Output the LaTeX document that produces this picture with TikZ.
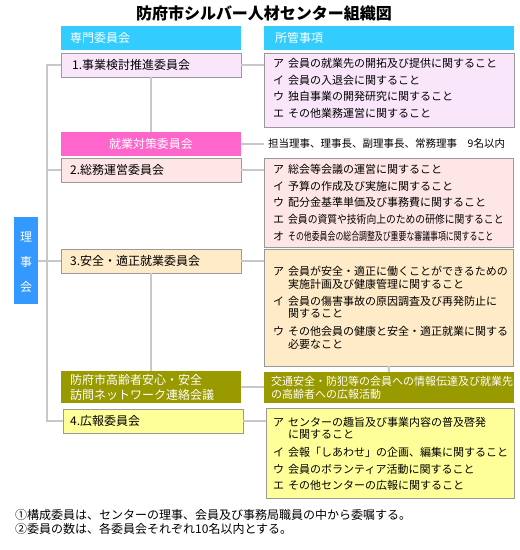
\documentclass[tikz,border=0pt]{standalone}
\usepackage{fontspec}
\usepackage{graphicx}
\setmainfont{Noto Sans CJK JP}
\definecolor{hdr}{HTML}{33CCFF}
\definecolor{bordc}{HTML}{999999}
\definecolor{linec}{HTML}{C8C8C8}
\definecolor{cA}{HTML}{FAE6FA}
\definecolor{cB}{HTML}{FFE6E6}
\definecolor{cC}{HTML}{FFEBC8}
\definecolor{cD}{HTML}{FFFF99}
\definecolor{olive}{HTML}{999900}
\definecolor{mag}{HTML}{FF66CC}
\definecolor{rib}{HTML}{3399FF}
\newcommand\itm[1]{\makebox[15pt][l]{#1}}
\tikzset{
  boxx/.style={rectangle, draw=bordc, line width=1pt, anchor=north west, inner sep=0pt, outer sep=0pt},
  flat/.style={rectangle, anchor=north west, inner sep=0pt, outer sep=0pt},
  ltxt/.style={anchor=west, inner sep=0pt, font=\fontsize{12}{14}\selectfont},
  rtxt/.style={anchor=west, inner sep=0pt, font=\fontsize{11}{13}\selectfont},
  wtxt/.style={text=white},
  conn/.style={draw=linec, line width=2pt},
}
\begin{document}
\begin{tikzpicture}[x=1pt,y=-1pt]
\useasboundingbox (0,0) rectangle (520,550);
% title
\node[inner sep=0pt, font=\fontsize{16}{18}\selectfont\bfseries] (title) at (264,13) {防府市シルバー人材センター組織図};
% headers
\node[flat, fill=hdr, minimum width=180pt, minimum height=24pt] (h1) at (61,26) {};
\node[flat, fill=hdr, minimum width=250pt, minimum height=24pt] (h2) at (264,26) {};
\node[ltxt, wtxt] (h1t) at (70,38) {専門委員会};
\node[ltxt, wtxt] (h2t) at (275,38) {所管事項};
% left boxes
\node[boxx, fill=cA, minimum width=180pt, minimum height=24pt] (b1) at (61,53) {};
\node[flat, fill=mag, minimum width=180pt, minimum height=24pt] (m) at (61,132) {};
\node[boxx, fill=cB, minimum width=180pt, minimum height=24pt] (b2) at (61,158) {};
\node[boxx, fill=cC, minimum width=180pt, minimum height=24pt] (b3) at (61,249) {};
\node[flat, fill=olive, minimum width=180pt, minimum height=32pt] (o) at (61,371) {};
\node[boxx, fill=cD, minimum width=180pt, minimum height=24pt] (b4) at (63,409) {};
\node[flat, fill=rib, minimum width=24pt, minimum height=87pt] (ri) at (14,217) {};
% right boxes
\node[boxx, fill=cA, minimum width=250pt, minimum height=74pt] (r1) at (264,53) {};
\node[boxx, fill=cB, minimum width=249pt, minimum height=89pt] (r2) at (264,158) {};
\node[boxx, fill=cC, minimum width=249pt, minimum height=117pt] (r3) at (264,249) {};
\node[flat, fill=olive, minimum width=250pt, minimum height=31pt] (ro) at (264,372) {};
\node[boxx, fill=cD, minimum width=248pt, minimum height=90pt] (r4) at (266,408) {};
% connectors
\coordinate (sTop) at (47,65);
\coordinate (sBot) at (47,421);
\draw[conn] (b1.west) -- (sTop) -- (sBot) -- (b4.west);
\draw[conn] (b2.west) -- (b2.west -| sTop);
\draw[conn] (ri.east |- b3.west) -- (b3.west);
\draw[conn] (b1.east) -- (b1.east -| r1.west);
\draw[conn] (b2.east) -- (b2.east -| r2.west);
\draw[conn] (b3.east) -- (b3.east -| r3.west);
\draw[conn] (o.east) -- (o.east -| ro.west);
\draw[conn] (b4.east) -- (b4.east -| r4.west);
\draw[conn] (b1.south) -- (m.north);
\draw[conn] (b3.south) -- (o.north);
\draw[conn] (r3.south) -- (ro.north);
\node[anchor=west, inner sep=4pt, font=\fontsize{10.5}{12}\selectfont] (mt) at (264,144) {担当理事、理事長、副理事長、常務理事　9名以内};
\draw[conn] (m.east) -- (mt.west);
% left texts
\node[ltxt] (b1t) at (72,65) {1.事業検討推進委員会};
\node[ltxt, wtxt, anchor=center] (mtx) at (m.center) {就業対策委員会};
\node[ltxt] (b2t) at (70,170) {2.総務運営委員会};
\node[ltxt] (b3t) at (70,261) {3.安全・適正就業委員会};
\node[ltxt, wtxt] (ot1) at (70,380) {防府市高齢者安心・安全};
\node[ltxt, wtxt] (ot2) at (70,395) {訪問ネットワーク連絡会議};
\node[ltxt] (b4t) at (70,421) {4.広報委員会};
\node[ltxt, wtxt, anchor=center] (ri1) at (26,237) {理};
\node[ltxt, wtxt, anchor=center] (ri2) at (26,262) {事};
\node[ltxt, wtxt, anchor=center] (ri3) at (26,287) {会};
% right 1
\node[rtxt] (r1a) at (273,63) {\itm{ア}会員の就業先の開拓及び提供に関すること};
\node[rtxt] (r1b) at (273,80) {\itm{イ}会員の入退会に関すること};
\node[rtxt] (r1c) at (273,96.5) {\itm{ウ}独自事業の開発研究に関すること};
\node[rtxt] (r1d) at (273,113) {\itm{エ}その他業務運営に関すること};
% right 2
\node[rtxt] (r2a) at (273,169.5) {\itm{ア}総会等会議の運営に関すること};
\node[rtxt] (r2b) at (273,186) {\itm{イ}予算の作成及び実施に関すること};
\node[rtxt] (r2c) at (273,202.5) {\itm{ウ}配分金基準単価及び事務費に関すること};
\node[rtxt] (r2d) at (273,219.5) {\itm{エ}\scalebox{0.89}[1]{会員の資質や技術向上のための研修に関すること}};
\node[rtxt] (r2e) at (273,236.5) {\itm{オ}\scalebox{0.717}[1]{その他委員会の総合調整及び重要な審議事項に関すること}};
% right 3
\node[rtxt] (r3a) at (273,271) {\itm{ア}会員が安全・適正に働くことができるための};
\node[rtxt] (r3b) at (288,284) {実施計画及び健康管理に関すること};
\node[rtxt] (r3c) at (273,301) {\itm{イ}会員の傷害事故の原因調査及び再発防止に};
\node[rtxt] (r3d) at (288,314) {関すること};
\node[rtxt] (r3e) at (273,331) {\itm{ウ}その他会員の健康と安全・適正就業に関する};
\node[rtxt] (r3f) at (288,344) {必要なこと};
% right olive
\node[rtxt, wtxt] (roa) at (271,381.5) {交通安全・防犯等の会員への情報伝達及び就業先};
\node[rtxt, wtxt] (rob) at (271,394.5) {の高齢者への広報活動};
% right 4
\node[rtxt] (r4a) at (273,422) {\itm{ア}センターの趣旨及び事業内容の普及啓発};
\node[rtxt] (r4b) at (288,435) {に関すること};
\node[rtxt] (r4c) at (273,452) {\itm{イ}会報「しあわせ」の企画、編集に関すること};
\node[rtxt] (r4d) at (273,469) {\itm{ウ}会員のボランティア活動に関すること};
\node[rtxt] (r4e) at (273,485.5) {\itm{エ}その他センターの広報に関すること};
% notes
\node[ltxt] (n1) at (15,515) {①構成委員は、センターの理事、会員及び事務局職員の中から委嘱する。};
\node[ltxt] (n2) at (15,529) {②委員の数は、各委員会それぞれ10名以内とする。};
\end{tikzpicture}
\end{document}
